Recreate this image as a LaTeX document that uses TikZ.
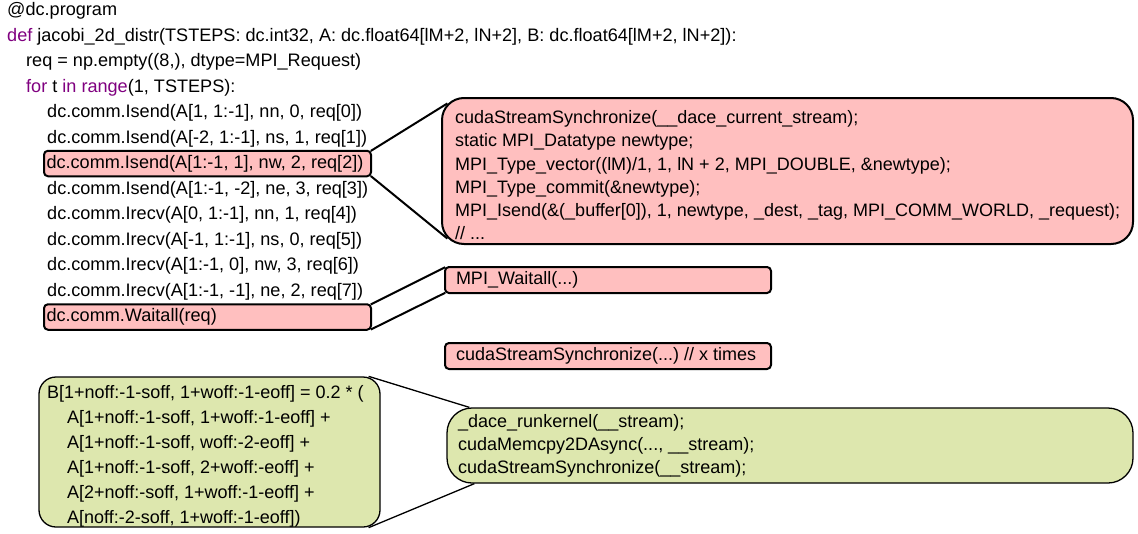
\documentclass[tikz,border=0pt]{standalone}
\usepackage{fontspec}
\setmainfont{Liberation Sans}
\usetikzlibrary{calc}
\definecolor{kw}{RGB}{128,0,128}
\definecolor{pinkfill}{RGB}{255,191,191}
\definecolor{greenfill}{RGB}{221,231,174}
% left-aligned text of a fixed width inside a box
\newcommand{\leftin}[2]{\makebox[#1][l]{#2}}

\begin{document}
\frenchspacing
\begin{tikzpicture}[x=1pt,y=-1pt,
  every node/.style={font=\fontsize{18.1}{25.5}\selectfont},
  codeline/.style={anchor=west, inner sep=0pt, text height=13.5pt, text depth=4.5pt},
  codebox/.style={anchor=west, draw=black, line width=2pt, fill=pinkfill,
    rounded corners=4pt, minimum width=327pt, minimum height=25.5pt,
    inner xsep=2.5pt, inner ysep=0pt, text height=13.5pt, text depth=4.5pt},
  callbox/.style={anchor=west, draw=black, line width=2pt, fill=pinkfill,
    rounded corners=4pt, minimum width=326pt, minimum height=26pt,
    inner xsep=11pt, inner ysep=0pt, text height=13.5pt, text depth=4.5pt},
  bigpink/.style={draw=black, line width=2pt, fill=pinkfill, rounded corners=22pt,
    inner sep=0pt},
  biggreen/.style={draw=black, line width=1.3pt, fill=greenfill, inner sep=0pt},
  blocktext/.style={anchor=west, inner sep=0pt, align=left},
  pinklink/.style={draw=black, line width=2pt},
  greenlink/.style={draw=black, line width=1.3pt}
]
% page frame
\path[fill=white] (0,0) rectangle (1138,533);

% Python source
\node[codeline] (l1) at (7,11) {@dc.program};
\node[codeline] (l2) at (7,36.5) {\textcolor{kw}{def} jacobi\_2d\_distr(TSTEPS: dc.int32, A: dc.float64[lM+2, lN+2], B: dc.float64[lM+2, lN+2]):};
\node[codeline] (l3) at (26,62) {req = np.empty((8,), dtype=MPI\_Request)};
\node[codeline] (l4) at (26,87.5) {\textcolor{kw}{for} t \textcolor{kw}{in} \textcolor{kw}{range}(1, TSTEPS):};
\node[codeline] (s0) at (47,113) {dc.comm.Isend(A[1, 1:-1], nn, 0, req[0])};
\node[codeline] (s1) at (47,138.5) {dc.comm.Isend(A[-2, 1:-1], ns, 1, req[1])};
\node[codebox] (s2) at (43,163.5) {\leftin{322pt}{dc.comm.Isend(A[1:-1, 1], nw, 2, req[2])}};
\node[codeline] (s3) at (47,189.5) {dc.comm.Isend(A[1:-1, -2], ne, 3, req[3])};
\node[codeline] (r4) at (47,215) {dc.comm.Irecv(A[0, 1:-1], nn, 1, req[4])};
\node[codeline] (r5) at (47,240.5) {dc.comm.Irecv(A[-1, 1:-1], ns, 0, req[5])};
\node[codeline] (r6) at (47,266) {dc.comm.Irecv(A[1:-1, 0], nw, 3, req[6])};
\node[codeline] (r7) at (47,291.5) {dc.comm.Irecv(A[1:-1, -1], ne, 2, req[7])};
\node[codebox] (wa) at (43,317) {\leftin{322pt}{dc.comm.Waitall(req)}};

% generated MPI code
\node[bigpink, minimum width=691pt, minimum height=146pt] (mpibox) at (787.5,171) {};
\node[blocktext, font=\fontsize{18}{23.3}\selectfont] (mpitxt) at (455,177)
  {\strut cudaStreamSynchronize(\_\_dace\_current\_stream);\\
   static MPI\_Datatype newtype;\\
   MPI\_Type\_vector((lM)/1, 1, lN + 2, MPI\_DOUBLE, \&newtype);\\
   MPI\_Type\_commit(\&newtype);\\
   MPI\_Isend(\&(\_buffer[0]), 1, newtype, \_dest, \_tag, MPI\_COMM\_WORLD, \_request);\\
   // ...\strut};
\node[callbox, font=\fontsize{18}{23}\selectfont] (mwbox) at (444,280) {\leftin{304pt}{MPI\_Waitall(...)}};
\node[callbox, font=\fontsize{18}{23}\selectfont] (csbox) at (444,356) {\leftin{304pt}{cudaStreamSynchronize(...) // x times}};

% stencil and its GPU code
\node[biggreen, rounded corners=17pt, minimum width=341pt, minimum height=150pt] (lgbox) at (209.5,452) {};
\node[blocktext, font=\fontsize{18}{25}\selectfont] (lgtxt) at (47,455.5)
  {\strut B[1+noff:-1-soff, 1+woff:-1-eoff] = 0.2 * (\\
   \hspace*{20pt}A[1+noff:-1-soff, 1+woff:-1-eoff] +\\
   \hspace*{20pt}A[1+noff:-1-soff, woff:-2-eoff] +\\
   \hspace*{20pt}A[1+noff:-1-soff, 2+woff:-eoff] +\\
   \hspace*{20pt}A[2+noff:-soff, 1+woff:-1-eoff] +\\
   \hspace*{20pt}A[noff:-2-soff, 1+woff:-1-eoff])\strut};
\node[biggreen, rounded corners=25pt, minimum width=686pt, minimum height=75pt] (kbox) at (790,445.5) {};
\node[blocktext, font=\fontsize{18}{23}\selectfont] (ktxt) at (458,446)
  {\strut \_dace\_runkernel(\_\_stream);\\
   cudaMemcpy2DAsync(..., \_\_stream);\\
   cudaStreamSynchronize(\_\_stream);\strut};

% connectors
\draw[pinklink] ($(s2.north east)+(-1.2,1.2)$) -- ($(mpibox.north west)+(6.4,6.4)$);
\draw[pinklink] ($(s2.south east)+(-1.2,-1.2)$) -- ($(mpibox.south west)+(6.4,-6.4)$);
\draw[pinklink] ($(wa.north east)+(-1.2,1.2)$) -- ($(mwbox.north west)+(1.2,1.2)$);
\draw[pinklink] ($(wa.south east)+(-1.2,-1.2)$) -- ($(mwbox.south west)+(1.2,-1.2)$);
\draw[greenlink] ($(lgbox.north east)+(-12,0)$) -- ($(kbox.north west)+(23,0)$);
\draw[greenlink] ($(lgbox.south east)+(-12,0)$) -- ($(kbox.south west)+(28,0)$);
\end{tikzpicture}
\end{document}
